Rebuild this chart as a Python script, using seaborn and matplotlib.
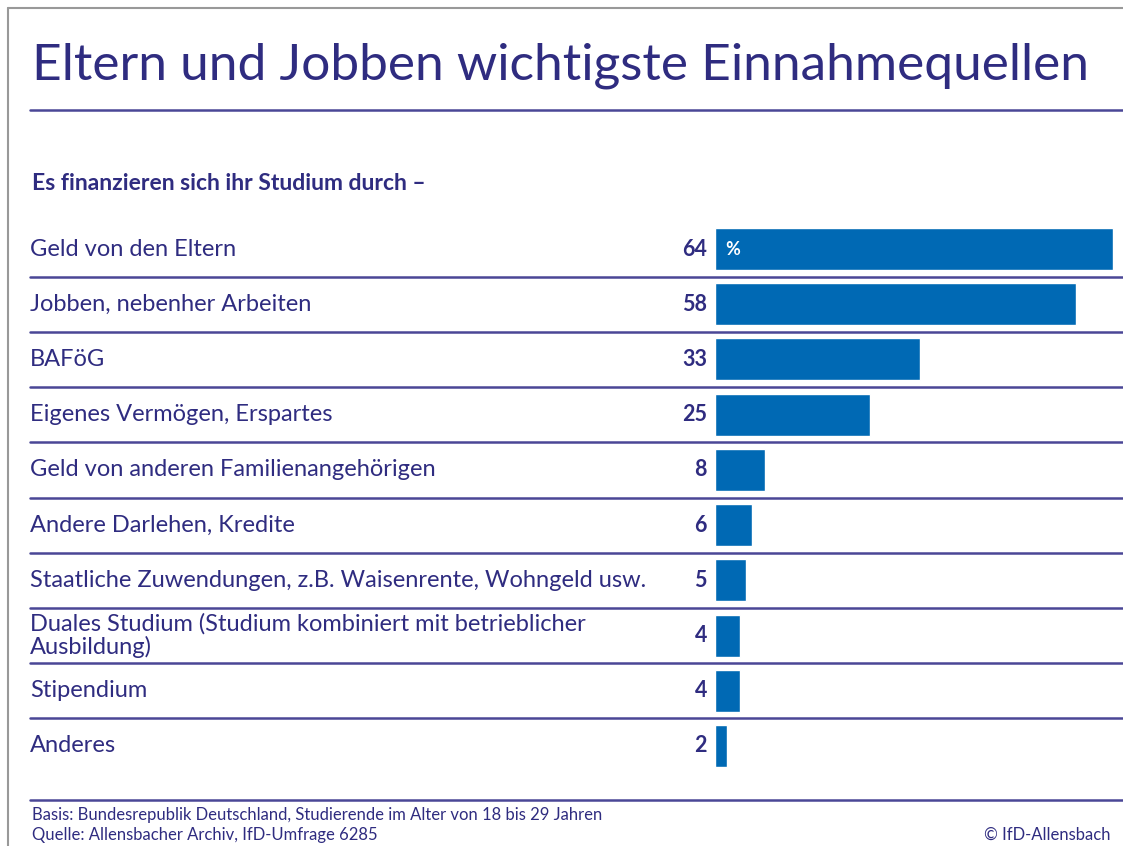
import seaborn as sns
import matplotlib.pyplot as plt
from matplotlib.lines import Line2D

# data
categories = [
    "Geld von den Eltern",
    "Jobben, nebenher Arbeiten",
    "BAFöG",
    "Eigenes Vermögen, Erspartes",
    "Geld von anderen Familienangehörigen",
    "Andere Darlehen, Kredite",
    "Staatliche Zuwendungen, z.B. Waisenrente, Wohngeld usw.",
    "Duales Studium (Studium kombiniert mit betrieblicher\nAusbildung)",
    "Stipendium",
    "Anderes",
]
values = [64, 58, 33, 25, 8, 6, 5, 4, 4, 2]

title = "Eltern und Jobben wichtigste Einnahmequellen"
subtitle = "Es finanzieren sich ihr Studium durch –"
note_basis = "Basis: Bundesrepublik Deutschland, Studierende im Alter von 18 bis 29 Jahren"
note_source = "Quelle: Allensbacher Archiv, IfD-Umfrage 6285"
copyright_txt = "© IfD-Allensbach"

navy = "#2f2c80"
line_col = "#4a4796"
bar_col = "#0069b4"

sns.set_style("white")
plt.rcParams['font.family'] = ['Lato', 'DejaVu Sans']

W, H = 1123, 846
fig = plt.figure(figsize=(W / 100, H / 100), dpi=100)

# bar axes: x from 715px to right edge, rows centred 249..746 px
ax = fig.add_axes([715 / W, 1 - 773.6 / H, 408 / W, 552.2 / H])
sns.barplot(x=values, y=categories, orient="h", color=bar_col,
            saturation=1, width=0.76, ax=ax)
ax.set_xlim(0, 408 / 6.22)
ax.set_ylim(len(categories) - 0.5, -0.5)
ax.axis("off")

tr = ax.get_yaxis_transform()
lab_x = (30 - 715) / 408
num_x = (707 - 715) / 408
for i, (cat, v) in enumerate(zip(categories, values)):
    ax.text(lab_x, i, cat, transform=tr, ha="left", va="center",
            fontsize=17, color=navy, linespacing=1.1)
    ax.text(num_x, i, str(v), transform=tr, ha="right", va="center",
            fontsize=15.5, fontweight="bold", color=navy)
    if i < len(categories) - 1:
        ax.plot([lab_x, 1], [i + 0.5, i + 0.5], transform=tr, color=line_col,
                lw=1.8, clip_on=False)

ax.text(1.7, 0, "%", ha="left", va="center", fontsize=13,
        fontweight="bold", color="white")

# title and rules
fig.text(32 / W, 1 - 66 / H, title, ha="left", va="center",
         fontsize=37, color=navy)
fig.add_artist(Line2D([30 / W, 1], [1 - 110 / H] * 2, color=line_col, lw=1.8))
fig.text(32 / W, 1 - 183 / H, subtitle, ha="left", va="center",
         fontsize=16.5, fontweight="bold", color=navy)
fig.add_artist(Line2D([30 / W, 1], [1 - 800 / H] * 2, color=line_col, lw=1.8))

fig.text(32 / W, 1 - 815 / H, note_basis, ha="left", va="center",
         fontsize=12, color=navy)
fig.text(32 / W, 1 - 835 / H, note_source, ha="left", va="center",
         fontsize=12, color=navy)
fig.text(1110 / W, 1 - 835 / H, copyright_txt, ha="right", va="center",
         fontsize=12, color=navy)

# frame of the graphic
fig.add_artist(Line2D([8 / W, 1], [1 - 8 / H] * 2, color="#999999", lw=1.5))
fig.add_artist(Line2D([8 / W, 8 / W], [0, 1 - 8 / H], color="#999999", lw=1.5))

fig.savefig("out.png", dpi=100)
